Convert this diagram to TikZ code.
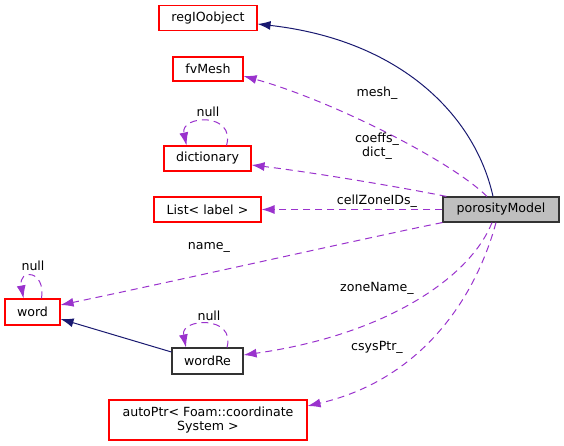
\documentclass[tikz,border=0pt]{standalone}
\usepackage{fontspec}
\setmainfont{DejaVu Sans}
\usepackage{xcolor}
\usetikzlibrary{arrows.meta,calc}
\definecolor{navyline}{HTML}{191970}
\definecolor{orchid}{HTML}{9A32CD}
\definecolor{grayfill}{HTML}{BFBFBF}

\begin{document}
\begin{tikzpicture}[
    x=1pt, y=-1pt,
    >={Latex[length=13pt,width=9pt]},
    every node/.style={font=\fontsize{12.6}{14.5}\selectfont, inner sep=0pt},
    cls/.style={draw=red, line width=1.1pt, fill=white, minimum height=25pt},
    doc/.style={draw=black!80, line width=1.1pt, minimum height=25pt},
    inherit/.style={->, line width=1pt, draw=navyline},
    member/.style={->, line width=1pt, draw=orchid, dash pattern=on 7pt off 5pt},
    lbl/.style={anchor=base, align=center}
]
\useasboundingbox (0,0) rectangle (564,446);

% classes
\node[cls, minimum width=98pt] (regio) at (208,18) {regIOobject};
\node[cls, minimum width=70pt, minimum height=24pt] (fvmesh) at (208,69) {fvMesh};
\node[cls, minimum width=87pt] (dict) at (207.5,158.5) {dictionary};
\node[cls, minimum width=107pt] (labels) at (207.5,209.5) {List< label >};
\node[doc, fill=grayfill, minimum width=116pt] (poro) at (501,209.5) {porosityModel};
\node[cls, minimum width=55pt, minimum height=26pt] (word) at (32.5,312) {word};
\node[doc, minimum width=71pt, minimum height=26pt] (wordre) at (207.5,361) {wordRe};
\node[cls, minimum width=198pt, minimum height=40pt, align=center] (autoptr) at (208,420) {autoPtr< Foam::coordinate\\System >};

% inheritance
\draw[inherit] ($(poro.north)+(-8,0)$) .. controls (475,115) and (400,40) .. ($(regio.east)+(0,6)$);
\draw[inherit] ($(wordre.west)+(0,-9)$) -- ($(word.east)+(0,7)$);

% members
\draw[member] ($(poro.north)+(-14,0)$) .. controls (450,160) and (330,100) .. ($(fvmesh.east)+(0,7)$);
\draw[member] ($(poro.north west)+(4,0)$) .. controls (400,187) and (310,172) .. ($(dict.east)+(0,6.5)$);
\draw[member] (poro) -- (labels);
\draw[member] (poro.south west) .. controls (380,235) and (180,280) .. ($(word.east)+(0,-7)$);
\draw[member] ($(poro.south)+(-9,0)$) .. controls (470,278) and (385,335) .. ($(wordre.east)+(0,-6)$);
\draw[member] ($(poro.south)+(-5,0)$) .. controls (475,300) and (420,380) .. ($(autoptr.east)+(0,-14)$);
\draw[member] ($(dict.north)+(19,0)$) .. controls (236,112) and (180,115) .. ($(dict.north)+(-21,0)$);
\draw[member] ($(word.north)+(9,0)$) .. controls (46,270) and (18,268) .. ($(word.north)+(-9,0)$);
\draw[member] ($(wordre.north)+(19.5,0)$) .. controls (236,315) and (180,318) .. ($(wordre.north)+(-21.5,0)$);

% labels
\node[lbl] (meshlbl) at (377,97) {mesh\_};
\node[lbl] (dictlbl) at (377,157) {coeffs\_\\dict\_};
\node[lbl] (zonelbl) at (377,205) {cellZoneIDs\_};
\node[lbl] (namelbl) at (209,249) {name\_};
\node[lbl] (znamelbl) at (377,291) {zoneName\_};
\node[lbl] (csyslbl) at (377,350) {csysPtr\_};
\node[lbl] (dictnull) at (208,117) {null};
\node[lbl] (wordnull) at (33,270.5) {null};
\node[lbl] (renull) at (209,320.5) {null};
\end{tikzpicture}
\end{document}
